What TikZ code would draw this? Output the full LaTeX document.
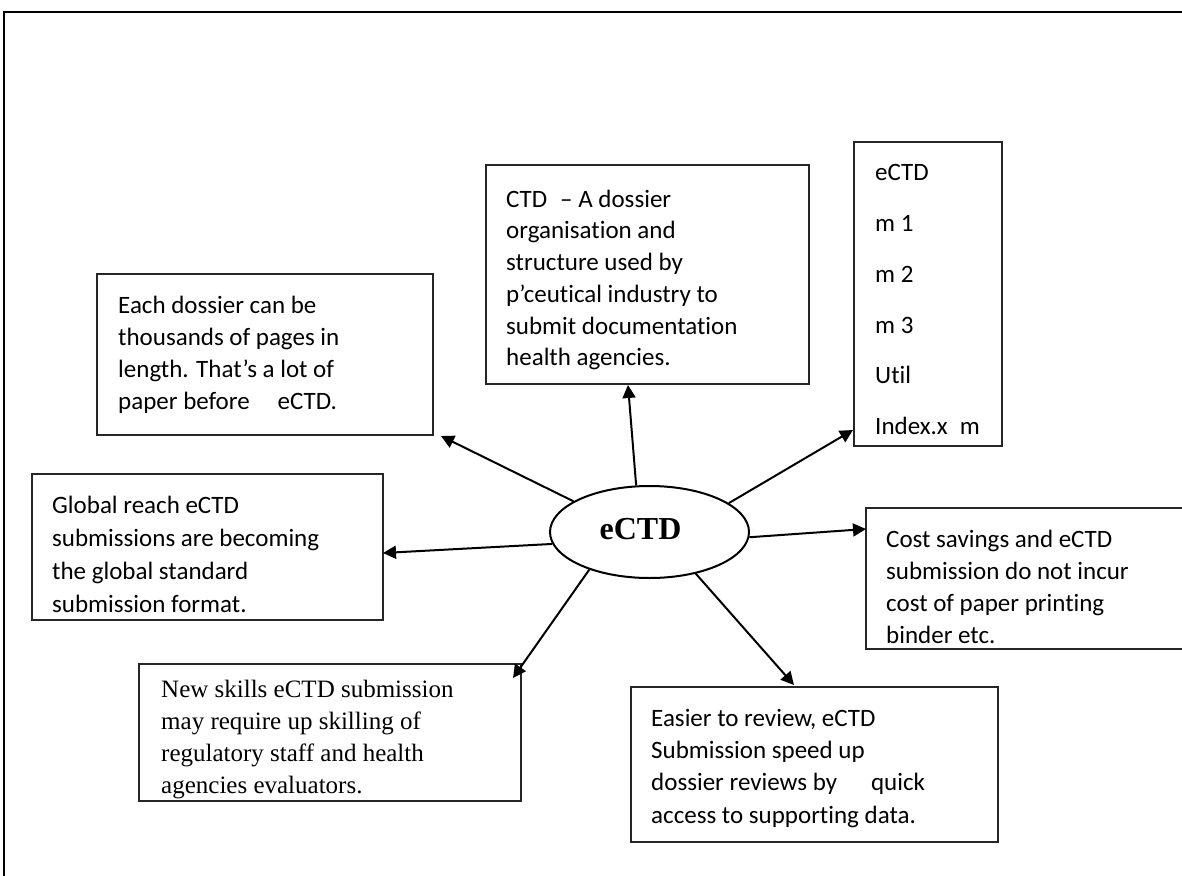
\documentclass[tikz,border=0pt]{standalone}
\usepackage{fontspec}
\setmainfont{Carlito}[RawFeature={-liga;-clig;-dlig}]
\newfontfamily\timesf{Liberation Serif}
\usetikzlibrary{arrows.meta,shapes.geometric}
\newcommand\fl{\rule{0pt}{20pt}}
\begin{document}
\begin{tikzpicture}[x=1pt,y=-1pt,
  box/.style={draw=black!85, line width=1.3pt, rectangle, inner sep=0pt},
  txt/.style={anchor=north west, inner sep=0pt, align=left},
  conn/.style={line width=2pt, -{Triangle[length=13pt,width=13pt]}},
]
\useasboundingbox (0,0) rectangle (1182,875);
\clip (0,0) rectangle (1182,875);
% outer frame
\draw[line width=2pt] (4,885) -- (4,12) -- (1195,12);

% central ellipse
\node[draw, line width=2pt, ellipse, minimum width=199pt, minimum height=92pt, inner sep=0pt] (e) at (649.5,532) {};
\node[anchor=base, inner sep=0pt, font=\timesf\bfseries\fontsize{32}{38}\selectfont] (et) at (640.5,539) {eCTD};

% boxes
\node[box, minimum width=323pt, minimum height=219pt] (ctd) at (647.5,274.5) {};
\node[txt, font=\fontsize{25}{31.7}\selectfont] (ctdt) at (506,187) {\fl CTD\hspace*{13pt}– A dossier\\organisation and\\structure used by\\p’ceutical industry to\\submit documentation\\health agencies.};

\node[box, minimum width=148pt, minimum height=304pt] (lst) at (928,294) {};
\node[txt, font=\fontsize{25}{50.7}\selectfont] (lstt) at (875,160.7) {\fl eCTD\\m 1\\m 2\\m 3\\Util\\Index.x\hspace*{12pt}m};

\node[box, minimum width=336pt, minimum height=161pt] (each) at (265,354.5) {};
\node[txt, font=\fontsize{25}{32}\selectfont] (eacht) at (118,293) {\fl Each dossier can be\\thousands of pages in\\length. That’s a lot of\\paper before\hspace*{28pt}eCTD.};

\node[box, minimum width=351pt, minimum height=146pt] (glob) at (207.5,547) {};
\node[txt, font=\fontsize{25}{33}\selectfont] (globt) at (52,493) {\fl Global reach eCTD\\submissions are becoming\\the global standard\\submission format.};

\node[box, minimum width=334pt, minimum height=141pt] (cost) at (1033,578.5) {};
\node[txt, font=\fontsize{25}{32}\selectfont] (costt) at (886,527) {\fl Cost savings and eCTD\\submission do not incur\\cost of paper printing\\binder etc.};

\node[box, minimum width=382pt, minimum height=137pt] (skill) at (330,732.5) {};
\node[txt, font=\timesf\fontsize{25}{32}\selectfont] (skillt) at (161,677) {\fl New skills eCTD submission\\may require up skilling of\\regulatory staff and health\\agencies evaluators.};

\node[box, minimum width=367pt, minimum height=155pt] (easy) at (814.5,764.5) {};
\node[txt, font=\fontsize{25}{32.3}\selectfont] (easyt) at (651,706) {\fl Easier to review, eCTD\\Submission speed up\\dossier reviews by\hspace*{34pt}quick\\access to supporting data.};

% arrow tips
\coordinate (tctd) at (628,385);
\coordinate (tlst) at (853,430);
\coordinate (teach) at (441,436);
\coordinate (tglob) at (383,553);
\coordinate (tcost) at (866,529);
\coordinate (tskill) at (513,678);
\coordinate (teasy) at (794,685);

\draw[conn] (e.106.2) -- (tctd);
\draw[conn] (e.20.3) -- (tlst);
\draw[conn] (e.158.1) -- (teach);
\draw[conn] (e.187.8) -- (tglob);
\draw[conn] (e.357.7) -- (tcost);
\draw[conn] (e.212.6) -- (tskill);
\draw[conn] (e.318.5) -- (teasy);
\end{tikzpicture}
\end{document}
